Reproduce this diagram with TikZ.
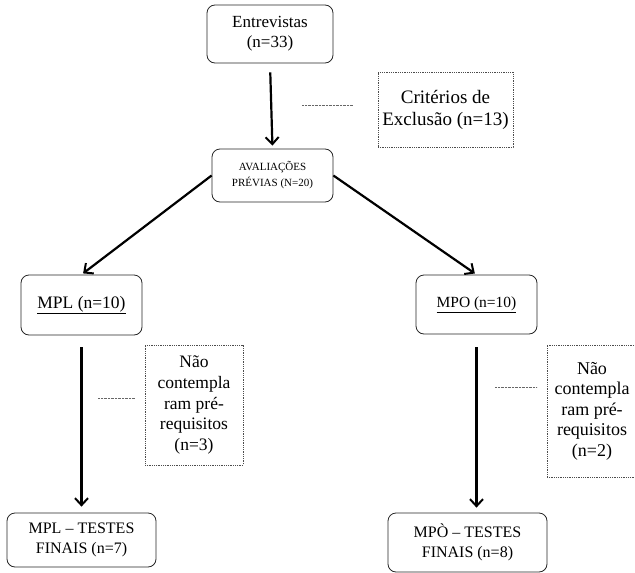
\documentclass[tikz,border=0pt]{standalone}
\usepackage{fontspec}
\setmainfont{Liberation Serif}
\usetikzlibrary{arrows.meta,positioning}

\begin{document}
\begin{tikzpicture}
    [x=1pt,y=-1pt,
    stage/.style={rectangle,rounded corners=8pt,draw=black!85,thick,
    align=center,inner sep=2pt},
    excluded/.style={rectangle,draw=black!70,densely dotted,thick,
    align=center,inner sep=2pt},
    flow/.style={-{Straight Barb[length=7pt,width=13pt,line width=2pt]},line width=2.2pt},
    link/.style={densely dotted,black!60,thin}]
    \useasboundingbox (0,0) rectangle (635,573);
    \node[stage,minimum width=126pt,minimum height=58pt,
        font=\fontsize{17}{20}\selectfont] (entrevistas) at (270,34)
        {Entrevistas\\(n=33)};
    \node[excluded,minimum width=135pt,minimum height=75pt,
        font=\fontsize{19}{22}\selectfont] (criterios) at (445.5,109.5)
        {Critérios de\\Exclusão (n=13)};
    \node[stage,minimum width=121pt,minimum height=53pt,
        font=\fontsize{11}{16}\selectfont] (avaliacoes) at (272.5,175.5)
        {AVALIAÇÕES\\PRÉVIAS (N=20)};
    \node[stage,minimum width=121pt,minimum height=60pt,
        font=\fontsize{17.5}{20}\selectfont] (mpl) at (81.5,305)
        {\underline{MPL (n=10)}};
    \node[stage,minimum width=121pt,minimum height=59pt,
        font=\fontsize{15.5}{20}\selectfont] (mpo) at (476.5,304.5)
        {\underline{MPO (n=10)}};
    \node[excluded,minimum width=98pt,minimum height=120pt,
        font=\fontsize{17.5}{20.7}\selectfont] (nao mpl) at (194,405)
        {Não\\contempla\\ram pré-\\requisitos\\(n=3)};
    \node[excluded,minimum width=90pt,minimum height=132pt,
        font=\fontsize{18}{20.5}\selectfont] (nao mpo) at (592,411)
        {Não\\contempla\\ram pré-\\requisitos\\(n=2)};
    \node[stage,minimum width=149pt,minimum height=54pt,
        font=\fontsize{16}{20}\selectfont] (mpl final) at (81.5,540)
        {MPL -- TESTES\\FINAIS (n=7)};
    \node[stage,minimum width=159pt,minimum height=59pt,
        font=\fontsize{16}{20}\selectfont] (mpo final) at (467.5,542.5)
        {MPÒ -- TESTES\\FINAIS (n=8)};
    % arrows
    \draw[flow,shorten <=9pt,shorten >=3pt] (entrevistas.south) -- (avaliacoes.north);
    \draw[flow,shorten >=2pt] (avaliacoes.west) -- (mpl.north);
    \draw[flow,shorten >=2pt] (avaliacoes.east) -- (mpo.north);
    \draw[flow,shorten <=12pt,shorten >=6pt] (mpl.south) -- (mpl.south |- mpl final.north);
    \draw[flow,shorten <=13pt,shorten >=5pt] (mpo.south) -- (mpo.south |- mpo final.north);
    % dotted links to the exclusion boxes
    \coordinate (link a) at (302,105);
    \coordinate (link b) at (98,398);
    \coordinate (link c) at (495,387);
    \draw[link] (link a) -- ++(51,0);
    \draw[link] (link b) -- ++(37,0);
    \draw[link] (link c) -- ++(42,0);
\end{tikzpicture}
\end{document}
